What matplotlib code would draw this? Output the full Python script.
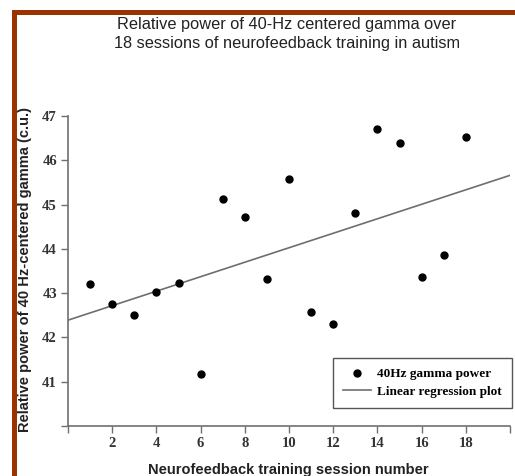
import numpy as np
import matplotlib
matplotlib.use("Agg")
import matplotlib.pyplot as plt
from matplotlib.patches import Rectangle
from matplotlib.lines import Line2D

sessions = list(range(1, 19))
gamma_power = [43.21, 42.76, 42.50, 43.02, 43.24, 41.18, 45.12, 44.73, 43.32,
               45.57, 42.58, 42.30, 44.82, 46.71, 46.38, 43.37, 43.86, 46.53]
reg_x = [0, 20]
reg_y = [42.39, 45.66]
xticks = list(range(0, 21, 2))
xtick_labels = [""] + [str(v) for v in range(2, 19, 2)] + [""]
yticks = list(range(40, 48))
ytick_labels = [""] + [str(v) for v in range(41, 48)]

W, H = 515, 476
fig = plt.figure(figsize=(W / 100, H / 100), dpi=100)
fig.patch.set_facecolor("white")

brown = "#993300"
fig.add_artist(Rectangle((12 / W, 1 - 15 / H), 1 - 12 / W, 5 / H,
                         transform=fig.transFigure, color=brown, lw=0))
fig.add_artist(Rectangle((12 / W, 0), 5 / W, 1 - 10 / H,
                         transform=fig.transFigure, color=brown, lw=0))

ax = fig.add_axes([68 / W, 1 - 426 / H, (510 - 68) / W, (426 - 116) / H])
ax.set_xlim(0, 20)
ax.set_ylim(40, 47)

ax.plot(reg_x, reg_y, color="#6e6e6e", lw=1.2, zorder=2)
ax.plot(sessions, gamma_power, "o", color="black", ms=5, zorder=3)

for s in ["top", "right"]:
    ax.spines[s].set_visible(False)
for s in ["left", "bottom"]:
    ax.spines[s].set_color("#707070")
    ax.spines[s].set_linewidth(1.2)

tick_font = dict(family=["Liberation Serif", "DejaVu Serif"], weight="bold", size=10.5)
ax.set_xticks(xticks)
ax.set_xticklabels(xtick_labels, **tick_font, color="#333333")
ax.set_yticks(yticks)
ax.set_yticklabels(ytick_labels, **tick_font, color="#333333")
ax.tick_params(direction="out", length=5, width=1, color="#707070", pad=3)

sans = ["Liberation Sans", "DejaVu Sans"]
fig.text(288 / W, 1 - 470 / H, "Neurofeedback training session number",
         ha="center", va="center", family=sans, weight="bold", size=10.5, color="#222222")
fig.text(25 / W, 1 - 270 / H, "Relative power of 40 Hz-centered gamma (c.u.)",
         ha="center", va="center", rotation=90, family=sans, weight="bold", size=10.5,
         color="#222222")

fig.text(287 / W, 1 - 34 / H,
         "Relative power of 40-Hz centered gamma over\n18 sessions of neurofeedback training in autism",
         ha="center", va="center", family=sans, size=11.8, color="#222222", linespacing=1.3)

handles = [Line2D([], [], marker="o", ls="none", color="black", ms=5),
           Line2D([], [], color="#6e6e6e", lw=1.2)]
leg = ax.legend(handles, ["40Hz gamma power", "Linear regression plot"],
                loc="upper left", bbox_to_anchor=(333 / W, 1 - 358 / H),
                bbox_transform=fig.transFigure, fancybox=False, framealpha=1,
                edgecolor="#555555", borderpad=0.75, handlelength=2.1, handletextpad=0.5,
                labelspacing=0.4, borderaxespad=0,
                prop=dict(family=["Liberation Serif", "DejaVu Serif"], weight="bold", size=9.5))
leg.get_frame().set_linewidth(1.0)

fig.savefig("out.png", dpi=100)
